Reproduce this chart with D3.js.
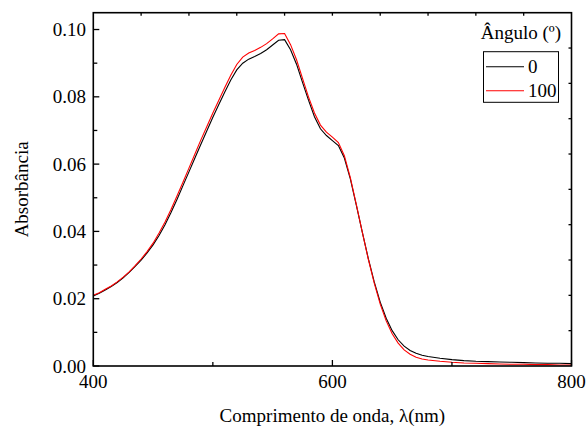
<!DOCTYPE html>
<html><head><meta charset="utf-8">
<script src="https://cdn.jsdelivr.net/npm/d3@7"></script>
<style>body{margin:0;background:#fff}svg{display:block}</style>
</head><body><svg id="c" width="587" height="426" font-family="Liberation Serif, DejaVu Serif, serif"></svg>
<script>
const wavelengths=[400,405,410,415,420,425,430,435,440,445,450,455,460,465,470,475,480,485,490,495,500,505,510,515,520,525,530,535,540,545,550,555,560,565,570,575,580,585,590,595,600,605,610,615,620,625,630,635,640,645,650,655,660,665,670,675,680,690,700,710,720,730,740,750,760,770,780,790,800];
const abs0=[.0208,.0216,.0226,.0236,.0248,.0262,.0278,.0296,.0315,.0336,.0360,.0388,.0420,.0456,.0495,.0536,.0577,.0618,.0659,.0699,.0739,.0777,.0814,.0850,.0880,.0900,.0912,.0920,.0929,.0940,.0954,.0968,.0970,.0940,.0897,.0843,.0790,.0741,.0705,.0685,.0670,.0655,.0618,.0556,.0478,.0398,.0320,.0250,.0190,.0142,.0105,.0078,.0059,.0046,.0038,.0032,.0028,.0023,.0019,.0016,.0014,.0013,.0012,.0011,.0010,.0009,.0008,.0008,.0007];
const abs100=[.0210,.0218,.0228,.0238,.0250,.0264,.0280,.0298,.0318,.0340,.0365,.0395,.0428,.0465,.0505,.0546,.0588,.0630,.0672,.0712,.0752,.0790,.0828,.0864,.0896,.0918,.0930,.0938,.0947,.0958,.0972,.0987,.0988,.0955,.0910,.0855,.0800,.0752,.0716,.0695,.0680,.0664,.0625,.0560,.0480,.0398,.0318,.0246,.0184,.0134,.0096,.0068,.0048,.0035,.0026,.0021,.0018,.0014,.0011,.0009,.0008,.0007,.0006,.0005,.0005,.0004,.0004,.0003,.0003];
const xTicks=[400,600,800];
const xMinor=[500,700];
const yTicks=[0,0.02,0.04,0.06,0.08,0.10];
const yMinor=[0.01,0.03,0.05,0.07,0.09];
const seriesNames=["0","100"];
const seriesColors=["#000000","#ff0000"];

const L=93.3,R=571.5,T=12.7,B=366;
const FONT="'Liberation Serif', 'DejaVu Serif', serif";
const svg=d3.select("#c");
const x=d3.scaleLinear().domain([400,800]).range([L,R]);
const y=d3.scaleLinear().domain([0,0.105]).range([B,T]);
const xTop=d3.scaleLinear().domain([0,10]).range([L,R]);
const yRight=d3.scaleLinear().domain([0,10]).range([T,B]);

const line=d3.line().x(d=>x(d[0])).y(d=>y(d[1]));
[abs0,abs100].forEach((s,i)=>{
  svg.append("path").datum(wavelengths.map((w,j)=>[w,s[j]]))
    .attr("d",line).attr("fill","none").attr("stroke",seriesColors[i]).attr("stroke-width",1.1);
});

svg.append("rect").attr("x",L).attr("y",T).attr("width",R-L).attr("height",B-T)
  .attr("fill","none").attr("stroke","#000").attr("stroke-width",1.6);

const g=svg.append("g").attr("stroke","#000").attr("stroke-width",1.3);
xTicks.forEach(v=>g.append("line").attr("x1",x(v)).attr("x2",x(v)).attr("y1",B).attr("y2",B-6));
xMinor.forEach(v=>g.append("line").attr("x1",x(v)).attr("x2",x(v)).attr("y1",B).attr("y2",B-4));
yTicks.forEach(v=>g.append("line").attr("x1",L).attr("x2",L+6).attr("y1",y(v)).attr("y2",y(v)));
yMinor.forEach(v=>g.append("line").attr("x1",L).attr("x2",L+4).attr("y1",y(v)).attr("y2",y(v)));
d3.range(1,10).forEach(k=>g.append("line").attr("x1",xTop(k)).attr("x2",xTop(k)).attr("y1",T).attr("y2",T+3));
d3.range(1,10).forEach(k=>g.append("line").attr("x1",R).attr("x2",R-3).attr("y1",yRight(k)).attr("y2",yRight(k)));

function txt(){return svg.append("text").style("font-family",FONT).attr("font-size",19).attr("fill","#000");}
xTicks.forEach(v=>txt().attr("x",x(v)).attr("y",388).attr("text-anchor","middle").text(v));
yTicks.forEach(v=>txt().attr("x",86).attr("y",y(v)+6.5).attr("text-anchor","end").text(d3.format(".2f")(v)));

txt().attr("x",(L+R)/2).attr("y",422).attr("text-anchor","middle").text("Comprimento de onda, λ(nm)");
txt().attr("transform",`translate(28,${(T+B)/2}) rotate(-90)`).attr("text-anchor","middle").text("Absorbância");

txt().attr("x",561).attr("y",39).attr("text-anchor","end").text("Ângulo (º)");
svg.append("rect").attr("x",483.5).attr("y",51.7).attr("width",75).attr("height",50.6).attr("fill","#fff").attr("stroke","#000").attr("stroke-width",1);
seriesNames.forEach((n,i)=>{
  const yy=66.7+i*24;
  svg.append("line").attr("x1",486).attr("x2",524).attr("y1",yy).attr("y2",yy).attr("stroke",seriesColors[i]).attr("stroke-width",1.1);
  txt().attr("x",528).attr("y",yy+6.5).text(n);
});
</script></body></html>
